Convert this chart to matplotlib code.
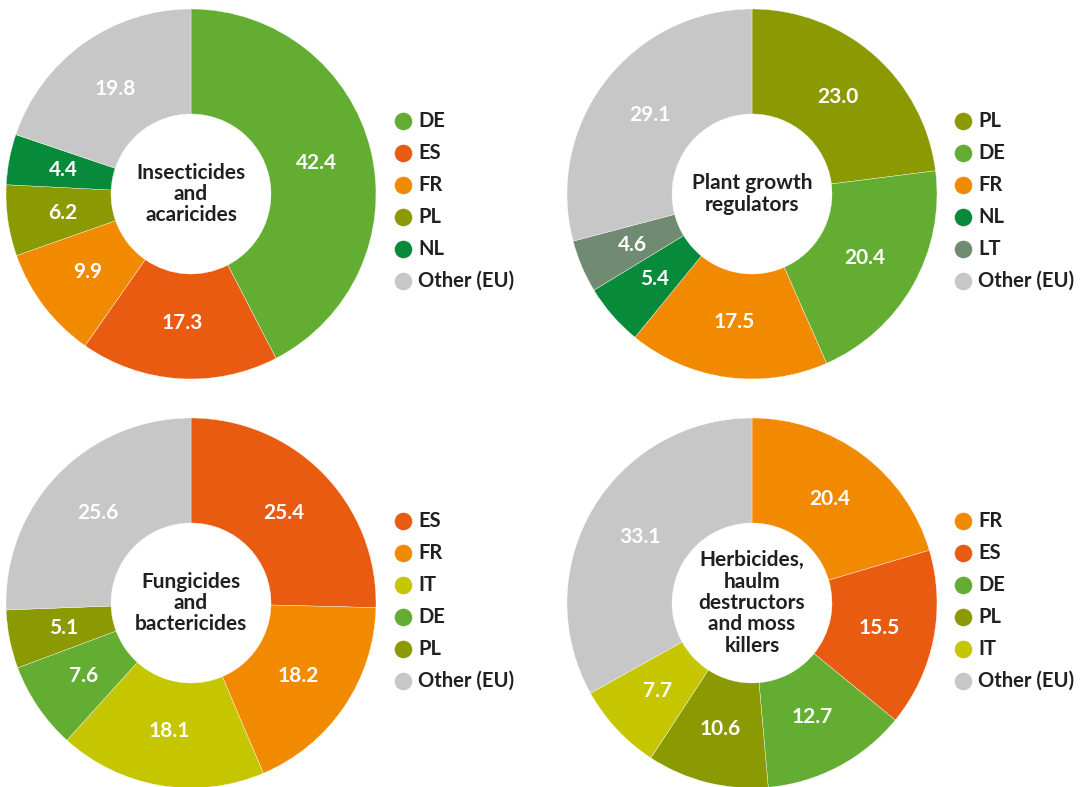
import matplotlib
matplotlib.use('Agg')
import numpy as np
import matplotlib.pyplot as plt

plt.rcParams['font.family'] = ['Lato', 'DejaVu Sans']

# colours per country
colors = {
    'DE': '#62ad32',
    'ES': '#e85b10',
    'FR': '#f18a00',
    'PL': '#8b9a03',
    'NL': '#078b3b',
    'LT': '#708b72',
    'IT': '#c5c500',
    'Other (EU)': '#c7c7c7',
}

# top-left
ins_title = 'Insecticides\nand\nacaricides'
ins_labels = ['DE', 'ES', 'FR', 'PL', 'NL', 'Other (EU)']
ins_values = [42.4, 17.3, 9.9, 6.2, 4.4, 19.8]

# top-right
pgr_title = 'Plant growth\nregulators'
pgr_labels = ['PL', 'DE', 'FR', 'NL', 'LT', 'Other (EU)']
pgr_values = [23.0, 20.4, 17.5, 5.4, 4.6, 29.1]

# bottom-left
fun_title = 'Fungicides\nand\nbactericides'
fun_labels = ['ES', 'FR', 'IT', 'DE', 'PL', 'Other (EU)']
fun_values = [25.4, 18.2, 18.1, 7.6, 5.1, 25.6]

# bottom-right
her_title = 'Herbicides,\nhaulm\ndestructors\nand moss\nkillers'
her_labels = ['FR', 'ES', 'DE', 'PL', 'IT', 'Other (EU)']
her_values = [20.4, 15.5, 12.7, 10.6, 7.7, 33.1]

W, H = 1085, 787
R_OUT, R_IN = 185, 80

fig = plt.figure(figsize=(W / 100, H / 100), dpi=100)
ax = fig.add_axes([0, 0, 1, 1])


def donut(cx, cy, title, labels, values, leg_x, leg_y):
    y = H - cy
    ax.pie(values, colors=[colors[l] for l in labels], center=(cx, y),
           radius=R_OUT, startangle=90, counterclock=False,
           wedgeprops=dict(width=R_OUT - R_IN, edgecolor='white', linewidth=0.25))
    # value labels at the middle of each wedge
    start = 90.0
    total = sum(values)
    for v in values:
        mid = start - v / total * 360 / 2
        r = 0.70 * R_OUT
        ax.text(cx + r * np.cos(np.radians(mid)), y + r * np.sin(np.radians(mid)),
                '%.1f' % v, color='white', fontsize=15, fontweight='bold',
                ha='center', va='center')
        start -= v / total * 360
    ax.text(cx, y, title, ha='center', va='center', fontsize=15,
            fontweight='bold', color='#231f20', linespacing=1.08)
    # legend
    for i, lab in enumerate(labels):
        ly = H - (leg_y + i * 32)
        ax.scatter([leg_x], [ly], s=160, color=colors[lab], linewidths=0)
        ax.text(leg_x + 15, ly, lab, ha='left', va='center', fontsize=14.5,
                fontweight='bold', color='#231f20')


donut(191, 194, ins_title, ins_labels, ins_values, 403, 121)
donut(752, 194, pgr_title, pgr_labels, pgr_values, 963, 121)
donut(191, 603, fun_title, fun_labels, fun_values, 403, 521)
donut(752, 603, her_title, her_labels, her_values, 963, 521)

ax.set_xlim(0, W)
ax.set_ylim(0, H)
ax.set_aspect('equal')
ax.axis('off')

fig.savefig('out.png', dpi=100, facecolor='white')
